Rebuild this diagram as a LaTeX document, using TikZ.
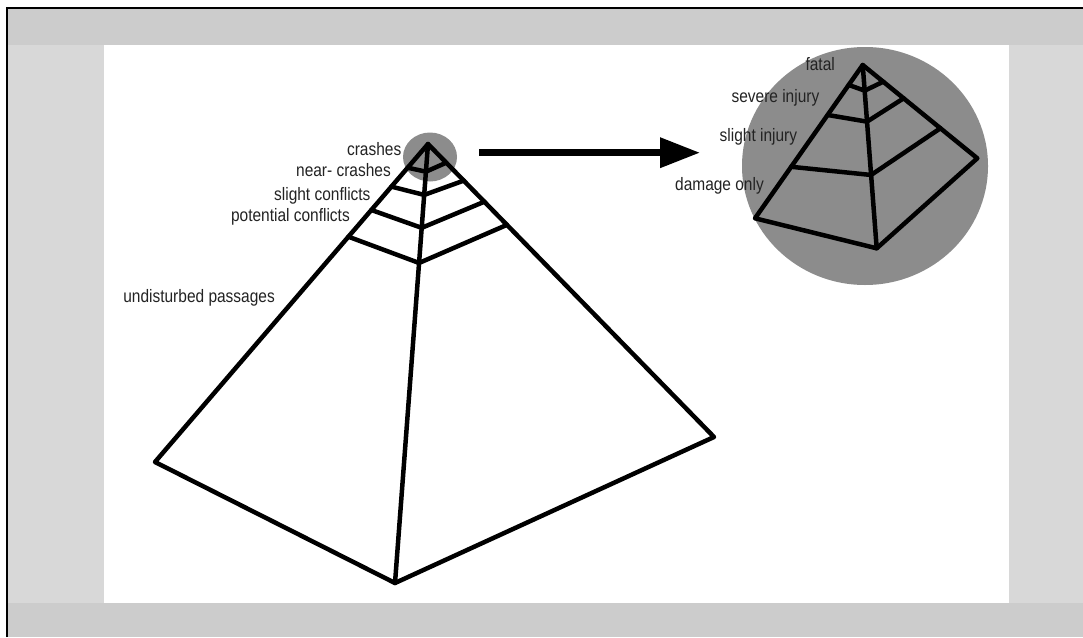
\documentclass[tikz,border=0pt]{standalone}
\usepackage{fontspec}
\setmainfont{Liberation Sans}
\usetikzlibrary{arrows.meta,calc}
\definecolor{bandgray}{RGB}{204,204,204}
\definecolor{sidegray}{RGB}{216,216,216}
\definecolor{circgray}{RGB}{140,140,140}
\definecolor{txt}{RGB}{35,35,35}
\newcommand{\nar}[1]{\scalebox{0.86}[1]{#1}}
\begin{document}
\begin{tikzpicture}[x=1pt,y=-1pt,
  lbl/.style={inner sep=0pt, text=txt, font=\fontsize{18}{20}\selectfont, anchor=base east},
  edge/.style={line width=4.5pt, line join=round, line cap=round}]
\useasboundingbox (0,0) rectangle (1083,637);
% frame and background
\fill[white] (0,0) rectangle (1083,637);
\fill[bandgray] (7,7.5) rectangle (1083,637);
\fill[sidegray] (7,45) rectangle (1083,603);
\fill[white] (104,45) rectangle (1009,603);
\draw[line width=2pt] (7,637) -- (7,7.5) -- (1083,7.5);
% circles
\fill[circgray] (430,157) ellipse [x radius=27, y radius=24.5];
\fill[circgray] (865,166) ellipse [x radius=123, y radius=119];
% main pyramid
\coordinate (A) at (428,144);
\coordinate (L) at (155,462);
\coordinate (B) at (395,583);
\coordinate (R) at (714,437);
% labels main
\node[lbl] (crashes) at (401.5,155.7) {\nar{crashes}};
\node[lbl] (near) at (391,176.7) {\nar{near- crashes}};
\node[lbl] (slight) at (370.7,200.7) {\nar{slight conflicts}};
\node[lbl] (potential) at (350,221.7) {\nar{potential conflicts}};
\node[lbl] (undist) at (275,302.3) {\nar{undisturbed passages}};
\draw[edge] (L) -- (A) -- (R) -- (B) -- cycle;
\draw[edge] (A) -- (B);
\foreach \tl/\tc/\tr in {0.0745/0.063/0.0638, 0.134/0.116/0.125, 0.2075/0.191/0.197, 0.2915/0.271/0.276}{
  \draw[edge] ($(A)!\tl!(L)$) -- ($(A)!\tc!(B)$) -- ($(A)!\tr!(R)$);
}
% arrow
\coordinate (arrS) at (479,152.7);
\coordinate (arrE) at (700,152.7);
\draw[line width=6.7pt, -{Triangle[length=40pt,width=29pt]}] (arrS) -- (arrE);
% small pyramid
\coordinate (a) at (862.7,65);
\coordinate (l) at (755,218.3);
\coordinate (b) at (876.7,248.3);
\coordinate (r) at (977.3,158.3);
\node[lbl] (fatal) at (835,70) {\nar{fatal}};
\node[lbl] (severe) at (819.5,102.3) {\nar{severe injury}};
\node[lbl] (slightinj) at (797.3,141.7) {\nar{slight injury}};
\node[lbl] (damage) at (764,190) {\nar{damage only}};
\draw[edge] (l) -- (a) -- (r) -- (b) -- cycle;
\draw[edge] (a) -- (b);
\foreach \tl/\tc/\tr in {0.130/0.140/0.179, 0.326/0.309/0.357, 0.664/0.600/0.678}{
  \draw[edge] ($(a)!\tl!(l)$) -- ($(a)!\tc!(b)$) -- ($(a)!\tr!(r)$);
}
\end{tikzpicture}
\end{document}
